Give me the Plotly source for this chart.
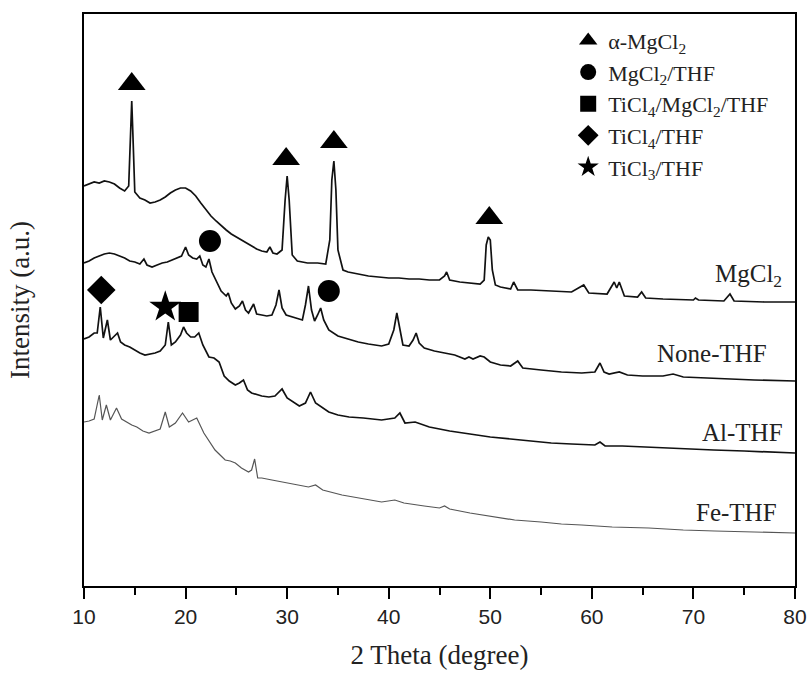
import plotly.graph_objects as go

# ---------------- data (2θ in degrees, intensity in arbitrary offset units) ----------------
mgcl2_x = [10.0, 10.5, 11.0, 11.5, 12.0, 12.5, 13.0, 13.5, 14.0, 14.4, 14.6, 14.7, 14.8, 15.0, 15.5,
           16.0, 16.5, 17.0, 17.5, 18.0, 18.5, 19.0, 19.5, 20.0, 20.5, 21.0, 21.5, 22.0, 22.5, 23.0,
           23.5, 24.0, 24.5, 25.0, 25.5, 26.0, 26.5, 27.0, 27.5, 28.0, 28.3, 28.6, 29.0, 29.5, 29.8,
           30.0, 30.2, 30.5, 31.0, 32.0, 33.0, 33.8, 34.2, 34.4, 34.6, 34.8, 35.0, 35.5, 36.0, 37.0,
           38.0, 39.0, 40.0, 41.0, 42.0, 43.0, 44.0, 45.0, 45.5, 45.7, 46.0, 47.0, 48.0, 49.0, 49.4,
           49.6, 49.8, 50.0, 50.2, 50.5, 51.0, 52.0, 52.3, 52.7, 54.0, 56.0, 58.0, 59.2, 59.7, 61.5,
           62.2, 62.45, 62.7, 63.2, 64.5, 64.9, 65.3, 67.0, 70.0, 70.2, 70.5, 73.0, 73.6, 74.0, 77.0, 80.0]
mgcl2_y = [399, 401, 403, 402, 404, 403, 401, 397, 394, 399, 465, 484, 455, 393, 387,
           385, 382, 383, 385, 388, 392, 395, 397, 397, 394, 389, 382, 375, 369, 364,
           359, 355, 351, 348, 345, 342, 339, 336, 334, 333, 338, 332, 331, 335, 385,
           409, 385, 330, 324, 322, 322, 321, 345, 405, 424, 395, 335, 315, 313, 311,
           309, 308, 307, 307, 306, 306, 305, 305, 309, 313, 305, 303, 302, 301, 305,
           340, 348, 345, 315, 300, 298, 296, 303, 295, 295, 294, 293, 300, 292, 291,
           303, 297, 303, 289, 288, 293, 287, 286, 285, 287, 285, 284, 291, 284, 283, 283]

none_x = [10.0, 10.5, 11.0, 11.5, 12.0, 12.5, 13.0, 13.5, 14.0, 14.5, 15.0, 15.5, 15.9, 16.2, 16.7,
          17.2, 17.7, 18.2, 18.7, 19.2, 19.6, 20.0, 20.3, 20.7, 21.1, 21.4, 21.7, 22.0, 22.3, 22.6,
          23.0, 23.5, 24.0, 24.2, 24.5, 24.9, 25.3, 25.6, 25.9, 26.2, 26.7, 27.0, 27.5, 28.0, 28.5,
          28.9, 29.2, 29.5, 29.9, 30.5, 31.0, 31.5, 31.8, 32.1, 32.4, 32.7, 33.0, 33.3, 33.6, 34.1,
          35.0, 36.0, 37.0, 38.0, 39.3, 40.0, 40.5, 40.8, 41.1, 41.4, 42.0, 42.4, 42.7, 43.0, 43.5,
          44.5, 45.5, 46.5, 47.5, 47.9, 48.3, 49.0, 49.4, 50.0, 51.0, 52.0, 52.7, 53.2, 55.0, 57.0,
          59.0, 60.3, 60.8, 61.2, 61.7, 62.7, 63.5, 65.0, 67.0, 68.0, 69.0, 71.0, 73.0, 76.0, 80.0]
none_y = [322, 324, 327, 329, 331, 332, 331, 329, 327, 324, 323, 321, 326, 320, 318,
          320, 322, 323, 325, 327, 329, 338, 330, 327, 326, 329, 320, 318, 326, 313,
          305, 294, 289, 292, 282, 276, 279, 284, 275, 272, 281, 271, 270, 269, 270,
          280, 295, 277, 270, 268, 266, 265, 280, 299, 275, 264, 270, 277, 265, 255,
          249, 246, 243, 241, 239, 241, 255, 272, 255, 240, 239, 245, 252, 242, 237,
          234, 232, 230, 226, 228, 226, 229, 228, 223, 220, 219, 224, 217, 215, 213,
          212, 213, 222, 213, 211, 213, 210, 209, 209, 211, 208, 207, 206, 205, 204]

al_x = [10.0, 10.5, 11.0, 11.3, 11.6, 11.9, 12.3, 12.6, 13.0, 13.3, 13.6, 14.0, 14.5, 15.0, 15.5,
        16.0, 16.5, 17.0, 17.5, 18.0, 18.3, 18.6, 19.0, 19.5, 19.8, 20.1, 20.5, 20.9, 21.3, 21.7,
        22.3, 22.8, 23.3, 23.8, 24.3, 24.9, 25.3, 25.7, 26.1, 26.5, 27.5, 28.2, 28.8, 29.5, 30.0,
        30.5, 31.2, 31.8, 32.3, 32.8, 33.5, 34.1, 35.0, 36.1, 37.5, 39.3, 40.6, 41.1, 41.6, 42.6,
        44.0, 46.0, 48.0, 50.0, 52.0, 54.0, 56.0, 58.0, 60.3, 60.8, 61.3, 63.0, 65.0, 67.0, 69.0,
        72.0, 75.0, 80.0]
al_y = [246, 248, 252, 252, 278, 247, 265, 245, 249, 252, 243, 240, 238, 235, 232,
        230, 231, 232, 234, 240, 263, 240, 243, 250, 258, 252, 248, 248, 252, 240,
        228, 227, 223, 209, 204, 200, 202, 205, 195, 192, 189, 188, 189, 196, 187,
        184, 179, 182, 193, 182, 177, 173, 170, 168, 167, 165, 167, 172, 162, 163,
        158, 154, 151, 148, 146, 144, 142, 141, 140, 143, 139, 139, 138, 137, 136,
        135, 134, 132]

fe_x = [10.0, 10.5, 11.0, 11.5, 11.8, 12.2, 12.6, 13.2, 13.7, 14.2, 14.7, 15.2, 15.8, 16.4, 17.0,
        17.5, 18.0, 18.4, 19.0, 19.7, 20.3, 20.7, 21.1, 21.8, 22.4, 22.9, 23.4, 23.9, 24.4, 24.9,
        25.5, 26.2, 26.5, 26.8, 27.1, 27.5, 28.5, 29.5, 30.8, 32.1, 32.8, 33.5, 35.4, 37.5, 39.3,
        40.6, 41.5, 43.5, 45.0, 45.5, 46.0, 48.0, 50.0, 52.4, 55.0, 57.0, 59.0, 62.0, 65.6, 69.0,
        72.1, 76.0, 80.0]
fe_y = [163, 164, 166, 190, 165, 180, 165, 177, 166, 163, 160, 158, 154, 152, 154,
        156, 173, 158, 162, 172, 163, 165, 167, 152, 143, 135, 130, 125, 124, 122,
        117, 113, 115, 126, 107, 107, 105, 103, 100, 98, 100, 95, 90, 86, 83,
        85, 82, 79, 77, 79, 76, 72, 69, 65, 63, 61, 60, 58, 57, 55,
        54, 53, 52]

# phase marker positions (2θ, offset intensity)
alpha_x = [14.7, 29.9, 34.6, 49.9]
alpha_y = [501, 426, 443, 367]
mgthf_x = [22.4, 34.1]
mgthf_y = [344, 294]
ticlmg_x = [20.3]
ticlmg_y = [273]
ticl4_x = [11.7]
ticl4_y = [295]
ticl3_x = [18.0]
ticl3_y = [278]

curve_labels = ["MgCl<sub>2</sub>", "None-THF", "Al-THF", "Fe-THF"]
label_x = [78.9, 77.4, 79.0, 78.4]
label_y = [310, 232, 153, 73]

x_ticks = [10, 20, 30, 40, 50, 60, 70, 80]

# ---------------- figure ----------------
SERIF = "Liberation Serif, Times New Roman, serif"
SANS = "Liberation Sans, Arial, sans-serif"

fig = go.Figure()

for xs, ys, col, w in [(mgcl2_x, mgcl2_y, "#111111", 1.7),
                       (none_x, none_y, "#111111", 1.7),
                       (al_x, al_y, "#111111", 1.7),
                       (fe_x, fe_y, "#555555", 1.2)]:
    fig.add_trace(go.Scatter(x=xs, y=ys, mode="lines",
                             line=dict(color=col, width=w),
                             showlegend=False, hoverinfo="skip"))

markers = [
    ("α-MgCl<sub>2</sub>", alpha_x, alpha_y, "triangle-up", 24),
    ("MgCl<sub>2</sub>/THF", mgthf_x, mgthf_y, "circle", 22),
    ("TiCl<sub>4</sub>/MgCl<sub>2</sub>/THF", ticlmg_x, ticlmg_y, "square", 20),
    ("TiCl<sub>4</sub>/THF", ticl4_x, ticl4_y, "diamond", 22),
    ("TiCl<sub>3</sub>/THF", ticl3_x, ticl3_y, "star", 24),
]
for name, xs, ys, sym, sz in markers:
    fig.add_trace(go.Scatter(x=xs, y=ys, mode="markers", name=name,
                             marker=dict(symbol=sym, size=sz, color="black",
                                         line=dict(width=0))))

for txt, lx, ly in zip(curve_labels, label_x, label_y):
    fig.add_annotation(x=lx, y=ly, text=txt, showarrow=False, xanchor="right",
                       yanchor="middle", font=dict(family=SERIF, size=25, color="#222"))

fig.update_layout(
    width=810, height=673,
    margin=dict(l=84, r=15, t=14, b=87),
    paper_bgcolor="white", plot_bgcolor="white",
    legend=dict(x=0.681, y=0.99, xanchor="left", yanchor="top",
                font=dict(family=SERIF, size=22, color="#222"),
                bgcolor="rgba(0,0,0,0)", itemwidth=30, tracegroupgap=0),
    xaxis=dict(range=[10, 80], tickvals=x_ticks, ticks="outside", ticklen=11, tickwidth=2,
               tickcolor="black", showline=True, linecolor="black", linewidth=2, mirror=True,
               showgrid=False, zeroline=False, automargin=False,
               minor=dict(dtick=5, ticks="outside", ticklen=7, tickwidth=2, tickcolor="black"),
               tickfont=dict(family=SANS, size=21, color="#222"),
               title=dict(text="2 Theta (degree)", font=dict(family=SERIF, size=27, color="#222"),
                          standoff=18)),
    yaxis=dict(range=[-1, 571], showticklabels=False, ticks="", showline=True, linecolor="black",
               linewidth=2, mirror=True, showgrid=False, zeroline=False, automargin=False,
               title=dict(text="Intensity (a.u.)", font=dict(family=SERIF, size=27, color="#222"),
                          standoff=45)),
)

fig.write_html("out.html",
               config={"displayModeBar": False},
               post_script="document.body.style.margin='0px';document.body.style.padding='0px';")
